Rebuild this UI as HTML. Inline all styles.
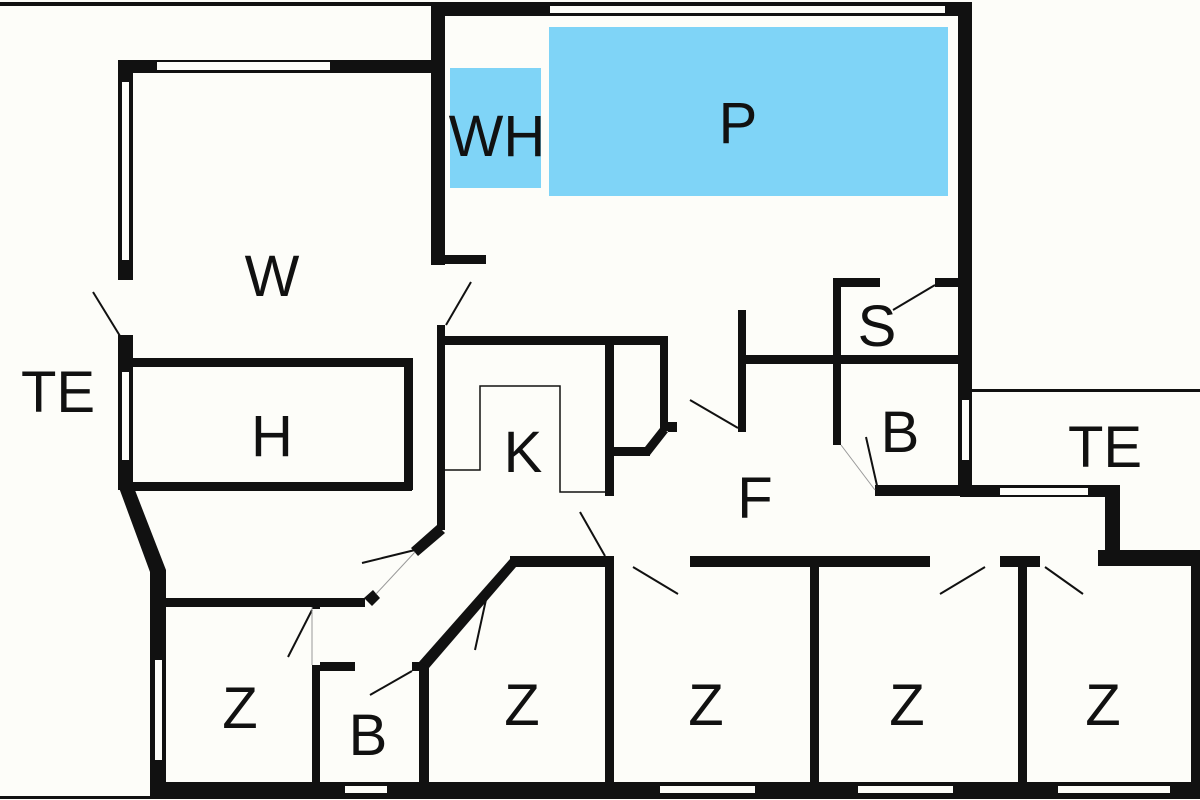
<!DOCTYPE html><html><head><style>body{margin:0;background:#fdfdf9}svg{display:block}text{font-family:"Liberation Sans",sans-serif;font-size:58px;fill:#111;text-anchor:middle}</style></head><body>
<svg width="1200" height="800" viewBox="0 0 1200 800">
<rect width="1200" height="800" fill="#fdfdf9"/>
<rect x="450" y="68" width="91" height="120" fill="#7fd4f7"/>
<rect x="549" y="27" width="399" height="169" fill="#7fd4f7"/>
<g fill="#111">
<rect x="0" y="2" width="432" height="4"/>
<rect x="432" y="2" width="540" height="14"/>
<rect x="431" y="2" width="14" height="263"/>
<rect x="431" y="255" width="55" height="9"/>
<rect x="437" y="325" width="8" height="205"/>
<rect x="958" y="2" width="14" height="490"/>
<rect x="118" y="60" width="326" height="13"/>
<rect x="118" y="60" width="15" height="220"/>
<rect x="118" y="335" width="15" height="155"/>
<rect x="133" y="358" width="279" height="9"/>
<rect x="404" y="358" width="9" height="132"/>
<rect x="133" y="482" width="279" height="9"/>
<polygon points="118,485 133,485 166,570 166,790 150,790 150,572"/>
<rect x="150" y="782" width="1050" height="14"/>
<rect x="0" y="796" width="1200" height="3"/>
<rect x="160" y="598" width="205" height="9"/>
<polygon points="437,525 445,533 418,556 411,548"/>
<polygon points="364,598 372,606 380,598 373,590"/>
<rect x="312" y="605" width="8" height="4"/>
<rect x="320" y="662" width="35" height="9"/>
<rect x="412" y="662" width="16" height="9"/>
<rect x="419" y="662" width="10" height="128"/>
<polygon points="419,662 429,668 516,567 510,559"/>
<rect x="510" y="556" width="100" height="11"/>
<rect x="605" y="556" width="9" height="230"/>
<rect x="690" y="556" width="240" height="11"/>
<rect x="1000" y="556" width="40" height="11"/>
<rect x="1098" y="550" width="102" height="16"/>
<rect x="810" y="556" width="9" height="230"/>
<rect x="1018" y="556" width="9" height="230"/>
<rect x="1191" y="550" width="9" height="246"/>
<rect x="312" y="665" width="8" height="125"/>
<rect x="444" y="336" width="224" height="9"/>
<rect x="660" y="336" width="8" height="95"/>
<polygon points="660,428 668,432 650,455 645,447"/>
<rect x="613" y="447" width="37" height="9"/>
<rect x="668" y="422" width="9" height="10"/>
<rect x="605" y="344" width="9" height="152"/>
<rect x="738" y="310" width="8" height="122"/>
<rect x="745" y="355" width="215" height="9"/>
<rect x="833" y="278" width="47" height="9"/>
<rect x="935" y="278" width="25" height="9"/>
<rect x="833" y="278" width="8" height="167"/>
<rect x="875" y="485" width="97" height="11"/>
<rect x="960" y="485" width="160" height="12"/>
<rect x="1105" y="485" width="15" height="80"/>
<rect x="972" y="389" width="228" height="3"/>
</g>
<g fill="#fdfdf9">
<rect x="550" y="6" width="395" height="7"/>
<rect x="157" y="62" width="173" height="8"/>
<rect x="122" y="82" width="7" height="178"/>
<rect x="122" y="372" width="7" height="88"/>
<rect x="155" y="660" width="7" height="100"/>
<rect x="1000" y="488" width="88" height="7"/>
<rect x="962" y="400" width="7" height="60"/>
<rect x="345" y="786" width="42" height="7"/>
<rect x="660" y="786" width="95" height="7"/>
<rect x="858" y="786" width="95" height="7"/>
<rect x="1058" y="786" width="112" height="7"/>
</g>
<g stroke="#111" stroke-width="2" fill="none">
<line x1="93" y1="292" x2="120" y2="336"/>
<line x1="471" y1="282" x2="446" y2="325"/>
<polyline points="444,470 480,470 480,386 560,386 560,492 605,492" stroke-width="1.5"/>
<line x1="690" y1="400" x2="738" y2="428"/>
<line x1="893" y1="310" x2="935" y2="285"/>
<line x1="866" y1="437" x2="878" y2="490"/>
<line x1="580" y1="512" x2="605" y2="556"/>
<line x1="633" y1="567" x2="678" y2="594"/>
<line x1="940" y1="594" x2="985" y2="567"/>
<line x1="1045" y1="567" x2="1083" y2="594"/>
<line x1="362" y1="563" x2="415" y2="550"/>
<line x1="288" y1="657" x2="312" y2="610"/>
<line x1="370" y1="695" x2="412" y2="671"/>
<line x1="475" y1="650" x2="487" y2="595"/>
</g>
<g stroke="#999" stroke-width="1"><line x1="376" y1="594" x2="415" y2="552"/><line x1="841" y1="445" x2="875" y2="490"/><line x1="312" y1="607" x2="312" y2="665"/></g>
<text x="497" y="156">WH</text><text x="738" y="143">P</text><text x="272" y="296">W</text>
<text x="58" y="412">TE</text><text x="272" y="456">H</text><text x="523" y="472">K</text>
<text x="877" y="346">S</text><text x="900" y="452">B</text><text x="1105" y="467">TE</text>
<text x="755" y="518">F</text><text x="240" y="728">Z</text><text x="368" y="755">B</text>
<text x="522" y="725">Z</text><text x="706" y="725">Z</text><text x="907" y="725">Z</text><text x="1103" y="725">Z</text>
</svg></body></html>
